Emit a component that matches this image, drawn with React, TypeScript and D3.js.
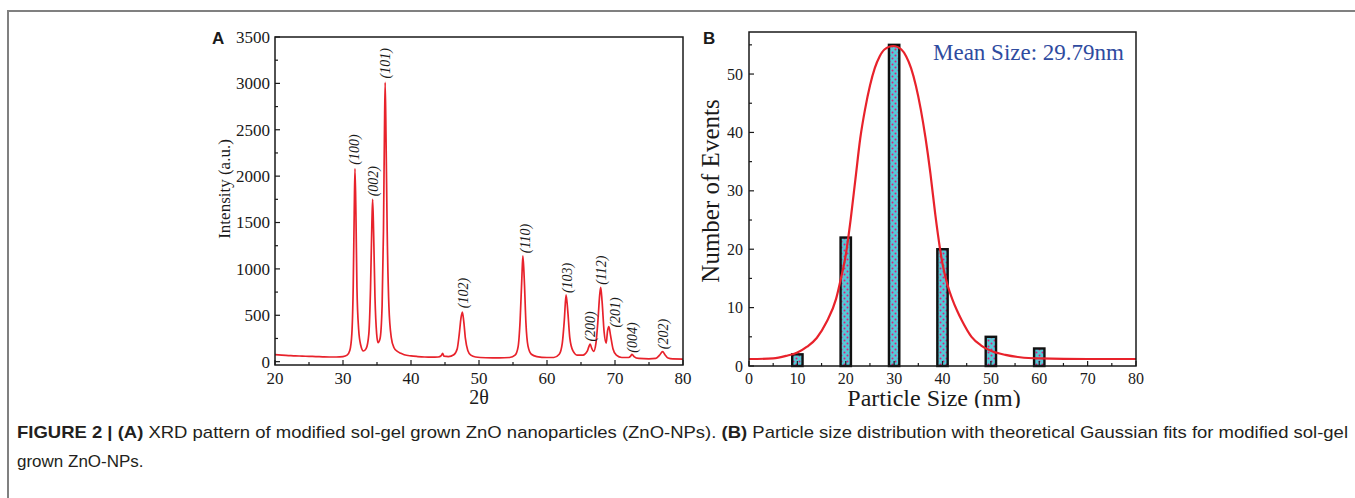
import React from "react";
import * as d3 from "d3";

// XRD pattern: [2theta, intensity]
const xrdPoints: [number, number][] = [
  [20, 75], [21, 70], [22, 66], [23, 62], [24, 60], [25, 57], [26, 55], [27, 52],
  [28, 50], [29, 50], [30, 55], [30.6, 70], [31.0, 120], [31.3, 300], [31.5, 800],
  [31.65, 1600], [31.76, 2080], [31.9, 1600], [32.05, 800], [32.3, 350], [32.6, 180],
  [33.0, 115], [33.4, 140], [33.8, 300], [34.05, 800], [34.25, 1500], [34.36, 1750],
  [34.5, 1400], [34.7, 700], [34.95, 300], [35.15, 205], [35.45, 250], [35.75, 600],
  [35.95, 1400], [36.1, 2500], [36.2, 3010], [36.33, 2400], [36.5, 1400], [36.75, 600],
  [37.1, 260], [37.5, 150], [38.0, 110], [38.5, 90], [39, 75], [40, 62], [41, 55],
  [42, 50], [43, 48], [44, 50], [44.45, 65], [44.65, 90], [44.85, 60], [45.5, 55],
  [46.3, 75], [46.8, 140], [47.1, 300], [47.35, 470], [47.55, 535], [47.75, 440],
  [48.0, 250], [48.35, 120], [48.8, 70], [49.5, 50], [51, 42], [53, 40], [54.5, 45],
  [55.3, 70], [55.75, 160], [56.05, 450], [56.3, 900], [56.45, 1140], [56.65, 900],
  [56.9, 420], [57.2, 170], [57.7, 80], [58.5, 55], [60, 45], [61, 45], [61.8, 80],
  [62.25, 200], [62.55, 450], [62.8, 720], [63.05, 550], [63.35, 260], [63.8, 120],
  [64.5, 70], [65.3, 70], [65.9, 110], [66.15, 160], [66.35, 190], [66.55, 150],
  [66.85, 110], [67.2, 200], [67.5, 450], [67.75, 720], [67.9, 800], [68.1, 650],
  [68.4, 320], [68.7, 200], [68.9, 330], [69.1, 378], [69.35, 280], [69.7, 140],
  [70.2, 70], [71, 45], [72, 45], [72.3, 60], [72.5, 80], [72.8, 55], [73.5, 35],
  [75, 30], [76, 35], [76.55, 70], [77.0, 108], [77.35, 75], [77.8, 40], [78.5, 30],
  [80, 28],
];

// hkl labels: position (2theta) and intensity at the foot of the label
const peakNames = ["(100)", "(002)", "(101)", "(102)", "(110)", "(103)", "(200)", "(112)", "(201)", "(004)", "(202)"];
const peakAt = [31.7, 34.36, 36.2, 47.6, 56.8, 62.9, 66.3, 68.0, 70.0, 72.5, 77.0];
const peakTop = [2124, 1782, 3053, 577, 1170, 739, 216, 828, 367, 97, 134];

const xrdTicksX = [20, 30, 40, 50, 60, 70, 80];
const xrdTicksY = [0, 500, 1000, 1500, 2000, 2500, 3000, 3500];

// particle size histogram
const sizeBins = [10, 20, 30, 40, 50, 60];
const sizeCounts = [2, 22, 55, 20, 5, 3];

// gaussian fit curve: [size, events]
const gaussFit: [number, number][] = [
  [0, 1.2], [5, 1.3], [8, 1.8], [10, 2.3], [12, 3.3], [14, 4.8], [16, 7.5], [18, 11.5],
  [19, 15], [20, 19], [21, 25], [22, 32], [23, 39], [24, 44], [25, 48], [26, 51],
  [27, 53], [28, 54.2], [29.8, 54.8], [31.5, 54.2], [32.5, 53], [33.5, 51], [34.5, 48],
  [35.5, 44], [36.5, 39], [37.5, 33], [38.5, 26], [39.5, 20], [40, 17.5], [41, 14],
  [42, 11.5], [43, 9.5], [44, 7.8], [46, 5], [48, 3.5], [50, 2.6], [53, 1.9], [56, 1.5],
  [60, 1.3], [70, 1.2], [80, 1.2],
];

const sizeTicksX = [0, 10, 20, 30, 40, 50, 60, 70, 80];
const sizeTicksY = [0, 10, 20, 30, 40, 50];

const serif = "'Liberation Serif', 'Times New Roman', serif";
const sans = "'Liberation Sans', Arial, sans-serif";
const narrow = "'Liberation Sans Narrow', 'Arial Narrow', 'Liberation Sans', sans-serif";
const ink = "#1a1a1a";

const App = () => {
  const xA = d3.scaleLinear().domain([20, 80]).range([275, 683]);
  const yA = d3.scaleLinear().domain([-36, 3500]).range([365, 37]);
  const xB = d3.scaleLinear().domain([0, 80]).range([749, 1136]);
  const yB = d3.scaleLinear().domain([0, 57.2]).range([366, 32]);

  const xrdLine = d3
    .line<[number, number]>()
    .x((d) => xA(d[0]))
    .y((d) => yA(d[1]))
    .curve(d3.curveMonotoneX);

  const fitLine = d3
    .line<[number, number]>()
    .x((d) => xB(d[0]))
    .y((d) => yB(d[1]))
    .curve(d3.curveMonotoneX);

  const minorA = d3.range(25, 80, 10);
  const minorAy = d3.range(250, 3500, 500);
  const minorB = d3.range(5, 80, 10);
  const minorBy = d3.range(5, 57, 10);

  const barHalf = 1.07;

  return (
    <div style={{ position: "absolute", left: 0, top: 0 }}>
      <svg width={1355} height={498} style={{ display: "block", background: "#fff" }}>
        <defs>
          <pattern id="dots" width={6} height={6} patternUnits="userSpaceOnUse">
            <rect width={6} height={6} fill="#55c8d6" />
            <circle cx={1.5} cy={1.5} r={1} fill="#e2197c" />
            <circle cx={4.5} cy={4.5} r={1} fill="#e2197c" />
          </pattern>
          <clipPath id="clipB">
            <rect x={690} y={0} width={665} height={408} />
          </clipPath>
        </defs>

        {/* figure frame */}
        <path d="M8,498V11H1355" fill="none" stroke="#808080" strokeWidth={2} />

        {/* ---------- panel A ---------- */}
        <text x={212} y={44} fontFamily={sans} fontWeight="bold" fontSize={17} fill={ink}>A</text>

        <path d={xrdLine(xrdPoints) || ""} fill="none" stroke="#e8222b" strokeWidth={1.7} />

        {peakNames.map((name, i) => (
          <text
            key={name}
            transform={`translate(${xA(peakAt[i])},${yA(peakTop[i])}) rotate(-90)`}
            dy="0.35em"
            fontFamily={serif}
            fontStyle="italic"
            fontSize={14}
            fill={ink}
          >
            {name}
          </text>
        ))}

        <rect x={275} y={37} width={408} height={328} fill="none" stroke={ink} strokeWidth={1.5} />

        {xrdTicksX.map((t) => (
          <g key={`ax${t}`}>
            <line x1={xA(t)} x2={xA(t)} y1={365} y2={360} stroke={ink} strokeWidth={1.2} />
            <text x={xA(t)} y={384} textAnchor="middle" fontFamily={serif} fontSize={17} fill={ink}>{t}</text>
          </g>
        ))}
        {minorA.map((t) => (
          <line key={`amx${t}`} x1={xA(t)} x2={xA(t)} y1={365} y2={362} stroke={ink} strokeWidth={1.2} />
        ))}
        {xrdTicksY.map((t) => (
          <g key={`ay${t}`}>
            <line x1={275} x2={280} y1={yA(t)} y2={yA(t)} stroke={ink} strokeWidth={1.2} />
            <text x={270} y={yA(t)} dy="0.35em" textAnchor="end" fontFamily={serif} fontSize={17} fill={ink}>{t}</text>
          </g>
        ))}
        {minorAy.map((t) => (
          <line key={`amy${t}`} x1={275} x2={278} y1={yA(t)} y2={yA(t)} stroke={ink} strokeWidth={1.2} />
        ))}

        <text
          transform={`translate(224,${(37 + 365) / 2 - 12}) rotate(-90)`}
          dy="0.35em"
          textAnchor="middle"
          fontFamily={serif}
          fontSize={17}
          fill={ink}
        >
          Intensity (a.u.)
        </text>
        <text x={479} y={404} textAnchor="middle" fontFamily={serif} fontSize={20} fill={ink}>2θ</text>

        {/* ---------- panel B ---------- */}
        <text x={703} y={44} fontFamily={sans} fontWeight="bold" fontSize={17} fill={ink}>B</text>

        {sizeBins.map((b, i) => (
          <rect
            key={`bar${b}`}
            x={xB(b - barHalf)}
            y={yB(sizeCounts[i])}
            width={xB(b + barHalf) - xB(b - barHalf)}
            height={yB(0) - yB(sizeCounts[i])}
            fill="url(#dots)"
            stroke="#111"
            strokeWidth={2.4}
          />
        ))}

        <path d={fitLine(gaussFit) || ""} fill="none" stroke="#e8222b" strokeWidth={2.2} />

        <rect x={749} y={32} width={387} height={334} fill="none" stroke={ink} strokeWidth={1.5} />

        {sizeTicksX.map((t) => (
          <g key={`bx${t}`}>
            <line x1={xB(t)} x2={xB(t)} y1={366} y2={361} stroke={ink} strokeWidth={1.2} />
            <text x={xB(t)} y={384} textAnchor="middle" fontFamily={serif} fontSize={16} fill={ink}>{t}</text>
          </g>
        ))}
        {minorB.map((t) => (
          <line key={`bmx${t}`} x1={xB(t)} x2={xB(t)} y1={366} y2={363} stroke={ink} strokeWidth={1.2} />
        ))}
        {sizeTicksY.map((t) => (
          <g key={`by${t}`}>
            <line x1={749} x2={754} y1={yB(t)} y2={yB(t)} stroke={ink} strokeWidth={1.2} />
            <text x={743} y={yB(t)} dy="0.35em" textAnchor="end" fontFamily={serif} fontSize={16} fill={ink}>{t}</text>
          </g>
        ))}
        {minorBy.map((t) => (
          <line key={`bmy${t}`} x1={749} x2={752} y1={yB(t)} y2={yB(t)} stroke={ink} strokeWidth={1.2} />
        ))}

        <text
          transform={`translate(710,${(32 + 366) / 2 - 8}) rotate(-90)`}
          dy="0.35em"
          textAnchor="middle"
          fontFamily={serif}
          fontSize={25}
          fill={ink}
        >
          Number of Events
        </text>
        <g clipPath="url(#clipB)">
          <text x={934} y={406} textAnchor="middle" fontFamily={serif} fontSize={24} fill={ink}>
            Particle Size (nm)
          </text>
        </g>

        <text x={933} y={60} fontFamily={serif} fontSize={23} fill="#2f4b9f">Mean Size: 29.79nm</text>

        {/* ---------- caption ---------- */}
        <text
          x={17}
          y={438}
          fontFamily={narrow}
          fontSize={17}
          fill="#231f20"
          textLength={1331}
          lengthAdjust="spacingAndGlyphs"
        >
          <tspan fontWeight="bold">FIGURE 2 | (A)</tspan>
          {" XRD pattern of modified sol-gel grown ZnO nanoparticles (ZnO-NPs). "}
          <tspan fontWeight="bold">(B)</tspan>
          {" Particle size distribution with theoretical Gaussian fits for modified sol-gel"}
        </text>
        <text x={17} y={467} fontFamily={narrow} fontSize={17} fill="#231f20">grown ZnO-NPs.</text>
      </svg>
    </div>
  );
};

export default App;
